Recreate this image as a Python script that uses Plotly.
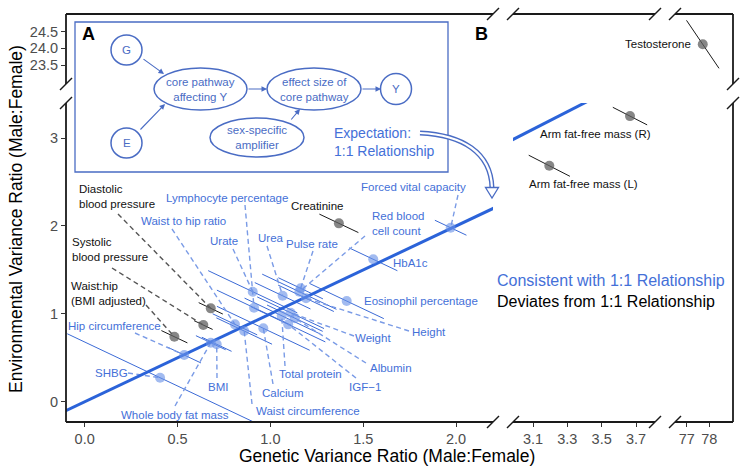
import plotly.graph_objects as go

# ---------------- data ----------------
consistent_traits = ["SHBG", "Hip circumference", "Whole body fat mass", "BMI", "Waist to hip ratio",
                     "Waist circumference", "Urate", "Lymphocyte percentage", "Calcium", "Urea",
                     "Total protein", "Weight", "Albumin", "IGF−1", "Pulse rate", "Red blood cell count",
                     "Height", "Eosinophil percentage", "HbA1c", "Forced vital capacity"]
consistent_genetic = [0.406, 0.536, 0.679, 0.711, 0.809, 0.859, 0.905, 0.912, 0.962, 1.066,
                      1.061, 1.109, 1.132, 1.096, 1.163, 1.156, 1.192, 1.411, 1.554, 1.971]
consistent_env = [0.274, 0.532, 0.672, 0.654, 0.881, 0.805, 1.252, 1.070, 0.836, 1.206,
                  0.979, 1.013, 0.951, 0.881, 1.291, 1.252, 1.177, 1.146, 1.621, 1.980]
consistent_ci = [0.50, 0.09, 0.08, 0.08, 0.12, 0.15, 0.24, 0.20, 0.25, 0.15,
                 0.20, 0.18, 0.15, 0.20, 0.12, 0.20, 0.15, 0.20, 0.13, 0.085]

deviating_traits = ["Waist:hip (BMI adjusted)", "Systolic blood pressure", "Diastolic blood pressure",
                    "Creatinine", "Arm fat-free mass (L)", "Arm fat-free mass (R)", "Testosterone"]
deviating_genetic = [0.483, 0.639, 0.679, 1.369, 3.195, 3.665, 77.71]
deviating_env = [0.740, 0.873, 1.063, 2.030, 2.685, 3.25, 24.12]
deviating_ci = [0.07, 0.05, 0.065, 0.105, 0.12, 0.10, 0.72]

reference_line = [-1.0, 4.0]   # 1:1 expectation

x_ticks_seg1 = [0.0, 0.5, 1.0, 1.5, 2.0]
x_ticklabels_seg1 = ["0.0", "0.5", "1.0", "1.5", "2.0"]
x_ticks_seg2 = [3.1, 3.3, 3.5, 3.7]
x_ticklabels_seg2 = ["3.1", "3.3", "3.5", "3.7"]
x_ticks_seg3 = [77, 78]
x_ticklabels_seg3 = ["77", "78"]
y_ticks_low = [0, 1, 2, 3]
y_ticklabels_low = ["0", "1", "2", "3"]
y_ticks_high = [23.5, 24.0, 24.5]
y_ticklabels_high = ["23.5", "24.0", "24.5"]

# ---------------- layout geometry (pixels) ----------------
W, H = 746, 469
PL, PR, PT, PB = 66, 733, 14, 422
PW, PH = PR - PL, PB - PT

XSEG = {"x": (66, 493, -0.1007, 2.199), "x2": (513, 655, 2.9835, 3.8107), "x3": (675, 733, 76.48, 79.05)}
YSEG = {"y": (422, 103, -0.230, 3.399), "y2": (84, 14, 22.93, 25.03)}


def fx(px):
    return (px - PL) / PW


def fy(py):
    return (PB - py) / PH


def dx(px, ax="x"):
    p0, p1, r0, r1 = XSEG[ax]
    return r0 + (px - p0) / (p1 - p0) * (r1 - r0)


def dy(py, ay="y"):
    p0, p1, r0, r1 = YSEG[ay]
    return r0 + (py - p0) / (p1 - p0) * (r1 - r0)


def seg_of(g, e):
    ax = "x3" if g > 50 else ("x2" if g > 2.5 else "x")
    ay = "y2" if e > 10 else "y"
    return ax, ay


BLUE_TXT = "#4470d8"
BLUE_LINE = "#2b63d9"
BLUE_ERR = "#3b6ad6"
BLUE_LEAD = "#7a9be6"
BLUE_PT = "rgba(105,145,230,0.62)"
GRAY_PT = "rgba(95,95,95,0.75)"
DIAG = "#4a6cc4"
FONT = "Liberation Sans, Arial, sans-serif"

# label placement (pixel positions), leader start point (pixels)
label_spec = {
    "SHBG": ("SHBG", (111, 372.5), "center", (128, 373)),
    "Hip circumference": ("Hip circumference", (114, 325.7), "center", (135, 333)),
    "Whole body fat mass": ("Whole body fat mass", (175.3, 415), "center", (175, 406)),
    "BMI": ("BMI", (217.5, 387), "center", (217, 378)),
    "Waist to hip ratio": ("Waist to hip ratio", (183, 220.7), "center", (172, 229)),
    "Waist circumference": ("Waist circumference", (307.8, 410.7), "center", (252, 404)),
    "Urate": ("Urate", (224, 241), "center", (233, 249)),
    "Lymphocyte percentage": ("Lymphocyte percentage", (226.7, 197.7), "center", (245, 205)),
    "Calcium": ("Calcium", (282.8, 392.7), "center", (273, 384)),
    "Urea": ("Urea", (270.5, 238), "center", (267, 246)),
    "Total protein": ("Total protein", (310.5, 374), "center", (285, 366)),
    "Weight": ("Weight", (373, 338.3), "center", (354, 336)),
    "Albumin": ("Albumin", (391, 368.3), "center", (366, 363)),
    "IGF−1": ("IGF−1", (365, 387.3), "center", (356, 378)),
    "Pulse rate": ("Pulse rate", (312, 244.3), "center", (313, 251)),
    "Red blood cell count": ("Red blood<br>cell count", (370, 224), "left", (365, 236)),
    "Height": ("Height", (429, 332.3), "center", (409, 331)),
    "Eosinophil percentage": ("Eosinophil percentage", (421, 300.7), "center", None),
    "HbA1c": ("HbA1c", (410.5, 263), "center", None),
    "Forced vital capacity": ("Forced vital capacity", (413, 186.7), "center", (458, 195)),
    "Waist:hip (BMI adjusted)": ("Waist:hip<br>(BMI adjusted)", (68.5, 293.5), "left", (146, 305)),
    "Systolic blood pressure": ("Systolic<br>blood pressure", (70, 250), "left", (112, 268)),
    "Diastolic blood pressure": ("Diastolic<br>blood pressure", (76.7, 197), "left", (118, 214)),
    "Creatinine": ("Creatinine", (317, 205.7), "center", None),
    "Arm fat-free mass (L)": ("Arm fat-free mass (L)", (583.8, 184.3), "center", None),
    "Arm fat-free mass (R)": ("Arm fat-free mass (R)", (595.5, 134), "center", None),
    "Testosterone": ("Testosterone", (657.7, 44.3), "center", None),
}

fig = go.Figure()


def add_lines(xs, ys, ax, ay, color, width, dash="solid"):
    fig.add_trace(go.Scatter(x=xs, y=ys, xaxis=ax, yaxis=ay, mode="lines",
                             line=dict(color=color, width=width, dash=dash),
                             hoverinfo="skip", showlegend=False))


# error bars (perpendicular to 1:1 line)
ex, ey = [], []
for g, e, d in zip(consistent_genetic, consistent_env, consistent_ci):
    ex += [g - d, g + d, None]
    ey += [e + d, e - d, None]
add_lines(ex, ey, "x", "y", BLUE_ERR, 1.0)

groups = {}
for g, e, d in zip(deviating_genetic, deviating_env, deviating_ci):
    k = seg_of(g, e)
    groups.setdefault(k, ([], []))
    groups[k][0].extend([g - d, g + d, None])
    groups[k][1].extend([e + d, e - d, None])
for (ax, ay), (xs, ys) in groups.items():
    add_lines(xs, ys, ax, ay, "#1a1a1a", 1.0)

# leader lines
lx, ly = [], []
for name, g, e in zip(consistent_traits, consistent_genetic, consistent_env):
    lead = label_spec[name][3]
    if lead:
        lx += [dx(lead[0]), g, None]
        ly += [dy(lead[1]), e, None]
add_lines(lx, ly, "x", "y", BLUE_LEAD, 1.4, "5px,3.5px")

gx, gy = [], []
for name, g, e in zip(deviating_traits, deviating_genetic, deviating_env):
    lead = label_spec[name][3]
    if lead:
        gx += [dx(lead[0]), g, None]
        gy += [dy(lead[1]), e, None]
add_lines(gx, gy, "x", "y", "#555555", 1.4, "5px,3.5px")

# 1:1 reference line
add_lines(reference_line, reference_line, "x", "y", BLUE_LINE, 3)
add_lines(reference_line, reference_line, "x2", "y", BLUE_LINE, 3)

# points
fig.add_trace(go.Scatter(x=consistent_genetic, y=consistent_env, xaxis="x", yaxis="y", mode="markers",
                         marker=dict(size=10, color=BLUE_PT), text=consistent_traits,
                         hoverinfo="text", showlegend=False))
pts = {}
for name, g, e in zip(deviating_traits, deviating_genetic, deviating_env):
    k = seg_of(g, e)
    pts.setdefault(k, ([], [], []))
    pts[k][0].append(g)
    pts[k][1].append(e)
    pts[k][2].append(name)
for (ax, ay), (xs, ys, ns) in pts.items():
    fig.add_trace(go.Scatter(x=xs, y=ys, xaxis=ax, yaxis=ay, mode="markers",
                             marker=dict(size=10, color=GRAY_PT), text=ns,
                             hoverinfo="text", showlegend=False))

annotations = []


def note(text, px, py, size, color, xanchor="center", yanchor="middle", align="center", **kw):
    annotations.append(dict(text=text, x=fx(px), y=fy(py), xref="paper", yref="paper", showarrow=False,
                            xanchor=xanchor, yanchor=yanchor, align=align,
                            font=dict(size=size, color=color, family=FONT), **kw))


# trait labels
for name in consistent_traits + deviating_traits:
    text, (px, py), anchor, _ = label_spec[name]
    col = BLUE_TXT if name in consistent_traits else "#111111"
    note(text, px, py, 11.5, col, xanchor=anchor, align=anchor)

# axis titles
note("Genetic Variance Ratio (Male:Female)", 387, 456, 17.5, "#000")
note("Environmental Variance Ratio (Male:Female)", 16, 219, 17.5, "#000", textangle=-90)

# panel letters
note("<b>A</b>", 88, 34, 18, "#000")
note("<b>B</b>", 481, 34, 18, "#000")

# legend-like text
note("Consistent with 1:1 Relationship", 495, 280, 16, BLUE_TXT, xanchor="left")
note("Deviates from 1:1 Relationship", 495, 301, 16, "#000", xanchor="left")
note("Expectation:<br>1:1 Relationship", 332, 141.5, 14, BLUE_TXT, xanchor="left", align="left")

# diagram nodes
nodes = [(126.5, 50, 15.5, 15, "G"), (126.5, 143, 15.5, 15, "E"),
         (200.5, 89, 46.5, 21, "core pathway<br>affecting Y"),
         (314, 89, 47, 21, "effect size of<br>core pathway"),
         (396, 89, 15.5, 15.5, "Y"),
         (257, 137.5, 47, 19.5, "sex-specific<br>amplifier")]
shapes = []
shapes.append(dict(type="rect", xref="paper", yref="paper", x0=fx(75), x1=fx(448), y0=fy(172), y1=fy(22),
                   line=dict(color=DIAG, width=1.3), fillcolor="rgba(0,0,0,0)", layer="below"))
for cx, cy, rx, ry, t in nodes:
    shapes.append(dict(type="circle", xref="paper", yref="paper", x0=fx(cx - rx), x1=fx(cx + rx),
                       y0=fy(cy + ry), y1=fy(cy - ry), line=dict(color=DIAG, width=1.5)))
    note(t, cx, cy, 11.5, DIAG)

arrows = [((142, 58), (164, 74)), ((139, 131), (165, 104)), ((247, 89), (267, 89)),
          ((361, 89), (381, 89)), ((290, 121), (300, 109))]
for (tx, ty), (hx, hy) in arrows:
    annotations.append(dict(text="", x=fx(hx), y=fy(hy), xref="paper", yref="paper", showarrow=True,
                            ax=tx - hx, ay=ty - hy, arrowhead=2, arrowsize=1, arrowwidth=1.1,
                            arrowcolor=DIAG))


def P(px, py):
    return f"{fx(px):.5f},{fy(py):.5f}"


curve = f"M {P(420,133)} C {P(462,135)} {P(491,152)} {P(492,188)}"
shapes.append(dict(type="path", xref="paper", yref="paper", path=curve, line=dict(color=DIAG, width=5)))
shapes.append(dict(type="path", xref="paper", yref="paper", path=curve, line=dict(color="white", width=2.2)))
shapes.append(dict(type="path", xref="paper", yref="paper",
                   path=f"M {P(485.5,187.5)} L {P(498.5,187.5)} L {P(492,198)} Z",
                   fillcolor="white", line=dict(color=DIAG, width=1.3)))

# frame with breaks
FR = dict(color="#1a1a1a", width=1.8)
for ax in ["x", "x2", "x3"]:
    p0, p1 = XSEG[ax][0], XSEG[ax][1]
    for yy in (PB, PT):
        shapes.append(dict(type="line", xref="paper", yref="paper", x0=fx(p0), x1=fx(p1), y0=fy(yy), y1=fy(yy),
                           line=FR))
for ay in ["y", "y2"]:
    p0, p1 = YSEG[ay][0], YSEG[ay][1]
    for xx in (PL, PR):
        shapes.append(dict(type="line", xref="paper", yref="paper", x0=fx(xx), x1=fx(xx), y0=fy(p0), y1=fy(p1),
                           line=FR))
breaks = [(493, PB), (513, PB), (655, PB), (675, PB), (493, PT), (513, PT), (655, PT), (675, PT),
          (PL, 84), (PL, 103), (PR, 84), (PR, 103)]
for bx, by in breaks:
    shapes.append(dict(type="line", xref="paper", yref="paper", x0=fx(bx - 6), y0=fy(by + 6),
                       x1=fx(bx + 6), y1=fy(by - 6), line=dict(color="#1a1a1a", width=1.4)))

tick_common = dict(showgrid=False, zeroline=False, showline=False, ticks="outside", ticklen=4,
                   tickwidth=1.3, tickcolor="#333333", tickfont=dict(size=14.5, color="#4d4d4d", family=FONT))


def xa(key, tv, tt):
    p0, p1, r0, r1 = XSEG[key]
    return dict(domain=[fx(p0), fx(p1)], range=[r0, r1], anchor="y", tickmode="array", tickvals=tv,
                ticktext=tt, **tick_common)


def ya(key, tv, tt):
    p0, p1, r0, r1 = YSEG[key]
    return dict(domain=[fy(p0), fy(p1)], range=[r0, r1], anchor="x", tickmode="array", tickvals=tv,
                ticktext=tt, **tick_common)


fig.update_layout(
    width=W, height=H, autosize=False,
    margin=dict(l=PL, r=W - PR, t=PT, b=H - PB),
    plot_bgcolor="white", paper_bgcolor="white",
    showlegend=False,
    font=dict(family=FONT),
    xaxis=xa("x", x_ticks_seg1, x_ticklabels_seg1),
    xaxis2=xa("x2", x_ticks_seg2, x_ticklabels_seg2),
    xaxis3=xa("x3", x_ticks_seg3, x_ticklabels_seg3),
    yaxis=ya("y", y_ticks_low, y_ticklabels_low),
    yaxis2=ya("y2", y_ticks_high, y_ticklabels_high),
    annotations=annotations,
    shapes=shapes,
)

fig.write_html("out.html", config={"displayModeBar": False},
               post_script="document.body.style.margin='0';document.body.style.overflow='hidden';")
